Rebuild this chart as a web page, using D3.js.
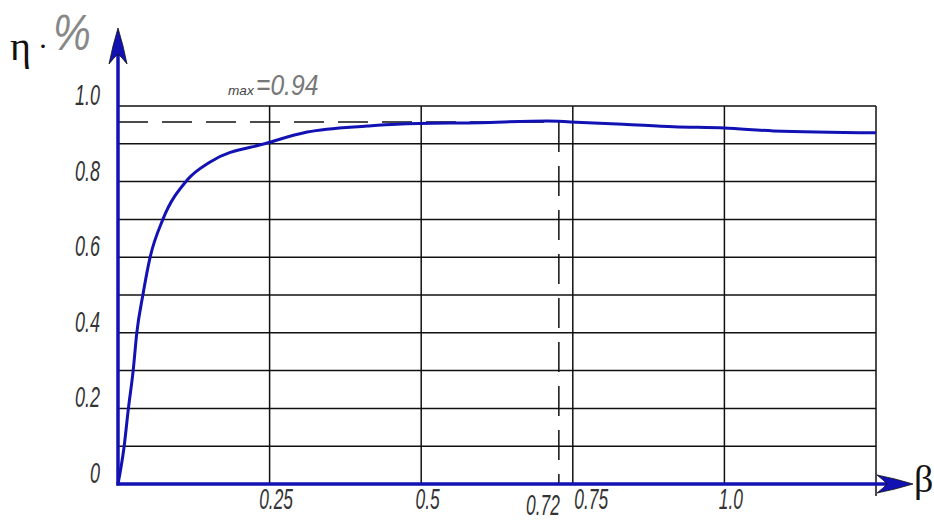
<!DOCTYPE html>
<html lang="en">

<head>
    <meta charset="UTF-8">
    <title>Efficiency vs load factor</title>
    <style>
        body { margin: 0; background: #fff; }
        .lbl { font-family: "Liberation Sans", sans-serif; font-style: italic; fill: #333; }
        .greek { font-family: "Liberation Serif", "DejaVu Serif", serif; fill: #111; }
    </style>
</head>

<body>
    <script src="https://cdn.jsdelivr.net/npm/d3@7"></script>
    <script>
        const svg_w = 934;
        const svg_h = 521;

        // curve: load factor beta -> efficiency eta
        const beta = [0, 0.010, 0.017, 0.025, 0.031, 0.041, 0.053, 0.074, 0.114, 0.152, 0.246, 0.312, 0.411, 0.46, 0.597, 0.708, 0.746, 0.833, 0.916, 1.0, 1.081, 1.25];
        const eta = [0, 0.098, 0.198, 0.30, 0.40, 0.50, 0.60, 0.70, 0.804, 0.852, 0.902, 0.931, 0.947, 0.952, 0.956, 0.960, 0.958, 0.952, 0.945, 0.942, 0.934, 0.929];

        const yTicks = [0, 0.2, 0.4, 0.6, 0.8, 1.0];
        const yTickLabels = ['0', '0.2', '0.4', '0.6', '0.8', '1.0'];
        const yGrid = [0.1, 0.2, 0.3, 0.4, 0.5, 0.6, 0.7, 0.8, 0.9, 1.0];
        const xTicks = [0.25, 0.5, 0.75, 1.0];
        const xTickLabels = ['0.25', '0.5', '0.75', '1.0'];
        const xGrid = [0.25, 0.5, 0.75, 1.0, 1.25];

        const etaMax = 0.958;
        const etaMaxLabel = '=0.94';
        const betaOpt = 0.727;
        const betaOptLabel = '0.72';

        const blue = '#1212b4';

        const x = d3.scaleLinear().domain([0, 1.25]).range([118, 876]);
        const y = d3.scaleLinear().domain([0, 1]).range([484, 106]);

        const svg = d3.select('body')
            .append('svg')
            .attr('width', svg_w)
            .attr('height', svg_h);

        // squeeze text horizontally, drafting-style narrow font
        function condense(sel, k) {
            sel.each(function () {
                const w = this.getComputedTextLength();
                d3.select(this)
                    .attr('textLength', w * k)
                    .attr('lengthAdjust', 'spacingAndGlyphs');
            });
        }

        // grid
        svg.append('g').selectAll('line')
            .data(yGrid)
            .join('line')
            .attr('x1', x(0)).attr('x2', x(1.25))
            .attr('y1', d => y(d)).attr('y2', d => y(d))
            .attr('stroke', '#111').attr('stroke-width', 1.5);

        svg.append('g').selectAll('line')
            .data(xGrid)
            .join('line')
            .attr('x1', d => x(d)).attr('x2', d => x(d))
            .attr('y1', y(1)).attr('y2', d => d === 1.25 ? y(0) + 12 : y(0))
            .attr('stroke', '#111').attr('stroke-width', 1.5);

        // dashed guides for the maximum
        svg.append('line')
            .attr('x1', x(0)).attr('x2', x(betaOpt))
            .attr('y1', y(etaMax)).attr('y2', y(etaMax))
            .attr('stroke', '#111').attr('stroke-width', 1.5)
            .attr('stroke-dasharray', '30,14');
        svg.append('line')
            .attr('x1', x(betaOpt)).attr('x2', x(betaOpt))
            .attr('y1', y(etaMax)).attr('y2', y(0))
            .attr('stroke', '#111').attr('stroke-width', 1.5)
            .attr('stroke-dasharray', '30,14');

        // curve
        const line = d3.line()
            .x((d, i) => x(beta[i]))
            .y(d => y(d))
            .curve(d3.curveMonotoneX);
        svg.append('path')
            .attr('d', line(eta))
            .attr('fill', 'none')
            .attr('stroke', blue)
            .attr('stroke-width', 3);

        // axes lines
        svg.append('line')
            .attr('x1', x(0)).attr('x2', x(0))
            .attr('y1', y(0) + 1.5).attr('y2', 40)
            .attr('stroke', blue).attr('stroke-width', 3.5);
        svg.append('line')
            .attr('x1', x(0) - 1.5).attr('x2', 905)
            .attr('y1', y(0)).attr('y2', y(0))
            .attr('stroke', blue).attr('stroke-width', 3.5);

        // arrow heads
        const ax = x(0);
        svg.append('path')
            .attr('d', `M${ax},28 L${ax - 5},46 L${ax - 9},64 L${ax - 4},58 L${ax},54 L${ax + 4},58 L${ax + 9},64 L${ax + 5},46 Z`)
            .attr('fill', blue).attr('stroke', '#111').attr('stroke-width', 0.8);
        const ay = y(0);
        svg.append('path')
            .attr('d', `M913,${ay} L895,${ay - 5} L877,${ay - 9} L883,${ay - 4} L887,${ay} L883,${ay + 4} L877,${ay + 9} L895,${ay + 5} Z`)
            .attr('fill', blue).attr('stroke', '#111').attr('stroke-width', 0.8);

        // tick labels
        const yAxis = svg.append('g')
            .attr('transform', `translate(${x(0)},0)`)
            .call(d3.axisLeft(y).tickValues(yTicks).tickSize(0).tickPadding(18)
                .tickFormat((d, i) => yTickLabels[i]));
        yAxis.select('.domain').remove();
        yAxis.selectAll('text')
            .attr('class', 'lbl')
            .attr('dy', '-0.05em')
            .attr('font-size', 29)
            .call(condense, 0.62);

        const xAxis = svg.append('g')
            .attr('transform', `translate(0,${y(0)})`)
            .call(d3.axisBottom(x).tickValues(xTicks).tickSize(0).tickPadding(25)
                .tickFormat((d, i) => xTickLabels[i]));
        xAxis.select('.domain').remove();
        xAxis.selectAll('text')
            .attr('class', 'lbl')
            .attr('dy', 0)
            .attr('dx', d => d === 0.75 ? 18 : 6)
            .attr('font-size', 29)
            .call(condense, 0.6);

        svg.append('text')
            .attr('class', 'lbl')
            .attr('x', x(betaOpt) + 1).attr('y', y(0) + 31)
            .attr('text-anchor', 'end')
            .attr('font-size', 29)
            .text(betaOptLabel)
            .call(condense, 0.6);

        // max label
        svg.append('text')
            .attr('class', 'lbl')
            .attr('x', 228).attr('y', 95)
            .attr('font-size', 13)
            .style('fill', '#444')
            .text('max')
            .call(condense, 1.05);
        svg.append('text')
            .attr('class', 'lbl')
            .attr('x', 256).attr('y', 95)
            .attr('font-size', 29)
            .style('fill', '#777')
            .text(etaMaxLabel)
            .call(condense, 0.85);

        // axis titles
        svg.append('text')
            .attr('class', 'greek')
            .attr('x', 10).attr('y', 60)
            .attr('font-size', 40)
            .text('η');
        svg.append('text')
            .attr('class', 'greek')
            .attr('x', 38).attr('y', 56)
            .attr('font-size', 30)
            .text('·');
        svg.append('text')
            .attr('class', 'lbl')
            .attr('x', 53).attr('y', 50)
            .attr('font-size', 50)
            .style('fill', '#888')
            .text('%')
            .call(condense, 0.85);
        svg.append('text')
            .attr('class', 'greek')
            .attr('x', 914).attr('y', 492)
            .attr('font-size', 38)
            .text('β');
    </script>
</body>

</html>
